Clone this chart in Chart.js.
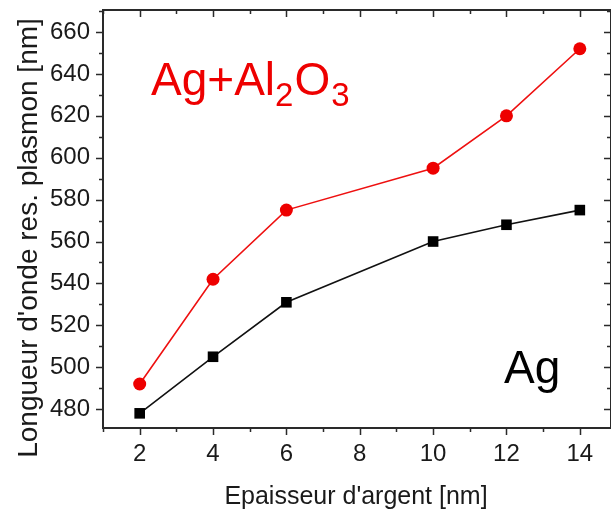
<!DOCTYPE html>
<html>
<head>
<meta charset="utf-8">
<script src="https://cdn.jsdelivr.net/npm/chart.js@4"></script>
<style>
  html, body { margin: 0; padding: 0; background: #fff; }
  #wrap { width: 611px; height: 516px; position: relative; overflow: hidden; }
</style>
</head>
<body>
<div id="wrap"><canvas id="c" width="611" height="516"></canvas></div>
<script>
const thickness = [2, 4, 6, 10, 12, 14];
const agAl2O3 = [492, 542, 575, 595, 620, 652];
const ag = [478, 505, 531, 560, 568, 575];
const xTicks = [2, 4, 6, 8, 10, 12, 14];
const yTicks = [480, 500, 520, 540, 560, 580, 600, 620, 640, 660];
const xTitle = "Epaisseur d'argent [nm]";
const yTitle = "Longueur d'onde res. plasmon [nm]";

const FONT = '"Liberation Sans", Arial, sans-serif';
const AXIS = '#2a2a2a';

const framePlugin = {
  id: 'frame',
  afterDraw(chart) {
    const ctx = chart.ctx;
    const a = chart.chartArea;
    const xs = chart.scales.x, ys = chart.scales.y;
    ctx.save();
    ctx.strokeStyle = AXIS;
    ctx.lineWidth = 2;
    ctx.beginPath();
    ctx.rect(a.left, a.top, a.right - a.left, a.bottom - a.top);
    ctx.stroke();
    ctx.lineWidth = 1.5;
    ctx.beginPath();
    for (let v = 1; v <= 14; v++) {
      const px = Math.round(xs.getPixelForValue(v)) + 0.5;
      const len = (v % 2 === 0) ? 7 : 4;
      ctx.moveTo(px, a.bottom); ctx.lineTo(px, a.bottom + len);
      ctx.moveTo(px, a.top); ctx.lineTo(px, a.top + len);
    }
    for (let v = 480; v <= 670; v += 10) {
      const py = Math.round(ys.getPixelForValue(v)) + 0.5;
      const len = (v % 20 === 0) ? 7 : 4;
      ctx.moveTo(a.left, py); ctx.lineTo(a.left - len, py);
      ctx.moveTo(a.right, py); ctx.lineTo(a.right - len, py);
    }
    ctx.stroke();

    // axis titles
    ctx.fillStyle = '#1a1a1a';
    ctx.textAlign = 'center';
    ctx.textBaseline = 'middle';
    ctx.font = '25px ' + FONT;
    ctx.fillText(xTitle, 356, 497);
    ctx.save();
    ctx.translate(29, 238);
    ctx.rotate(-Math.PI / 2);
    ctx.font = '28px ' + FONT;
    ctx.fillText(yTitle, 0, 0);
    ctx.restore();

    // series labels
    ctx.textAlign = 'left';
    ctx.textBaseline = 'alphabetic';
    ctx.fillStyle = '#ee0000';
    let x = 151, base = 95;
    const big = '46px ' + FONT, small = '33px ' + FONT;
    ctx.font = big; ctx.fillText('Ag+Al', x, base); x += ctx.measureText('Ag+Al').width;
    ctx.font = small; ctx.fillText('2', x, base + 11); x += ctx.measureText('2').width + 1;
    ctx.font = big; ctx.fillText('O', x, base); x += ctx.measureText('O').width + 1;
    ctx.font = small; ctx.fillText('3', x, base + 11);
    ctx.fillStyle = '#000';
    ctx.font = big;
    ctx.fillText('Ag', 504, 383);
    ctx.restore();
  }
};

function noPad(s) { s.paddingTop = 0; s.paddingBottom = 0; s.paddingLeft = 0; s.paddingRight = 0; }

new Chart(document.getElementById('c'), {
  type: 'line',
  data: {
    datasets: [
      {
        label: 'Ag+Al2O3',
        data: thickness.map((t, i) => ({ x: t, y: agAl2O3[i] })),
        borderColor: '#ee1010',
        backgroundColor: '#ee0000',
        borderWidth: 1.6,
        pointStyle: 'circle',
        pointRadius: 6.5,
        pointBorderWidth: 0,
        tension: 0
      },
      {
        label: 'Ag',
        data: thickness.map((t, i) => ({ x: t, y: ag[i] })),
        borderColor: '#111',
        backgroundColor: '#000',
        borderWidth: 1.6,
        pointStyle: 'rect',
        pointRadius: 7.5,
        pointBorderWidth: 0,
        tension: 0
      }
    ]
  },
  options: {
    responsive: false,
    animation: false,
    events: [],
    layout: { autoPadding: false, padding: { top: 10, right: 0, left: 0, bottom: 0 } },
    plugins: { legend: { display: false }, tooltip: { enabled: false } },
    scales: {
      x: {
        type: 'linear',
        min: 1, max: 14.85,
        afterBuildTicks: s => { s.ticks = xTicks.map(v => ({ value: v })); },
        afterFit: s => { s.height = 88; noPad(s); },
        grid: { display: true, drawOnChartArea: false, drawTicks: false, color: 'rgba(0,0,0,0)' },
        border: { display: false },
        ticks: { color: '#1a1a1a', font: { family: FONT, size: 24 }, padding: 12, maxRotation: 0 }
      },
      y: {
        type: 'linear',
        min: 471, max: 670.5,
        afterBuildTicks: s => { s.ticks = yTicks.map(v => ({ value: v })); },
        afterFit: s => { s.width = 103; noPad(s); },
        grid: { display: true, drawOnChartArea: false, drawTicks: false, color: 'rgba(0,0,0,0)' },
        border: { display: false },
        ticks: { color: '#1a1a1a', font: { family: FONT, size: 24 }, padding: 13 }
      }
    }
  },
  plugins: [framePlugin]
});
</script>
</body>
</html>
